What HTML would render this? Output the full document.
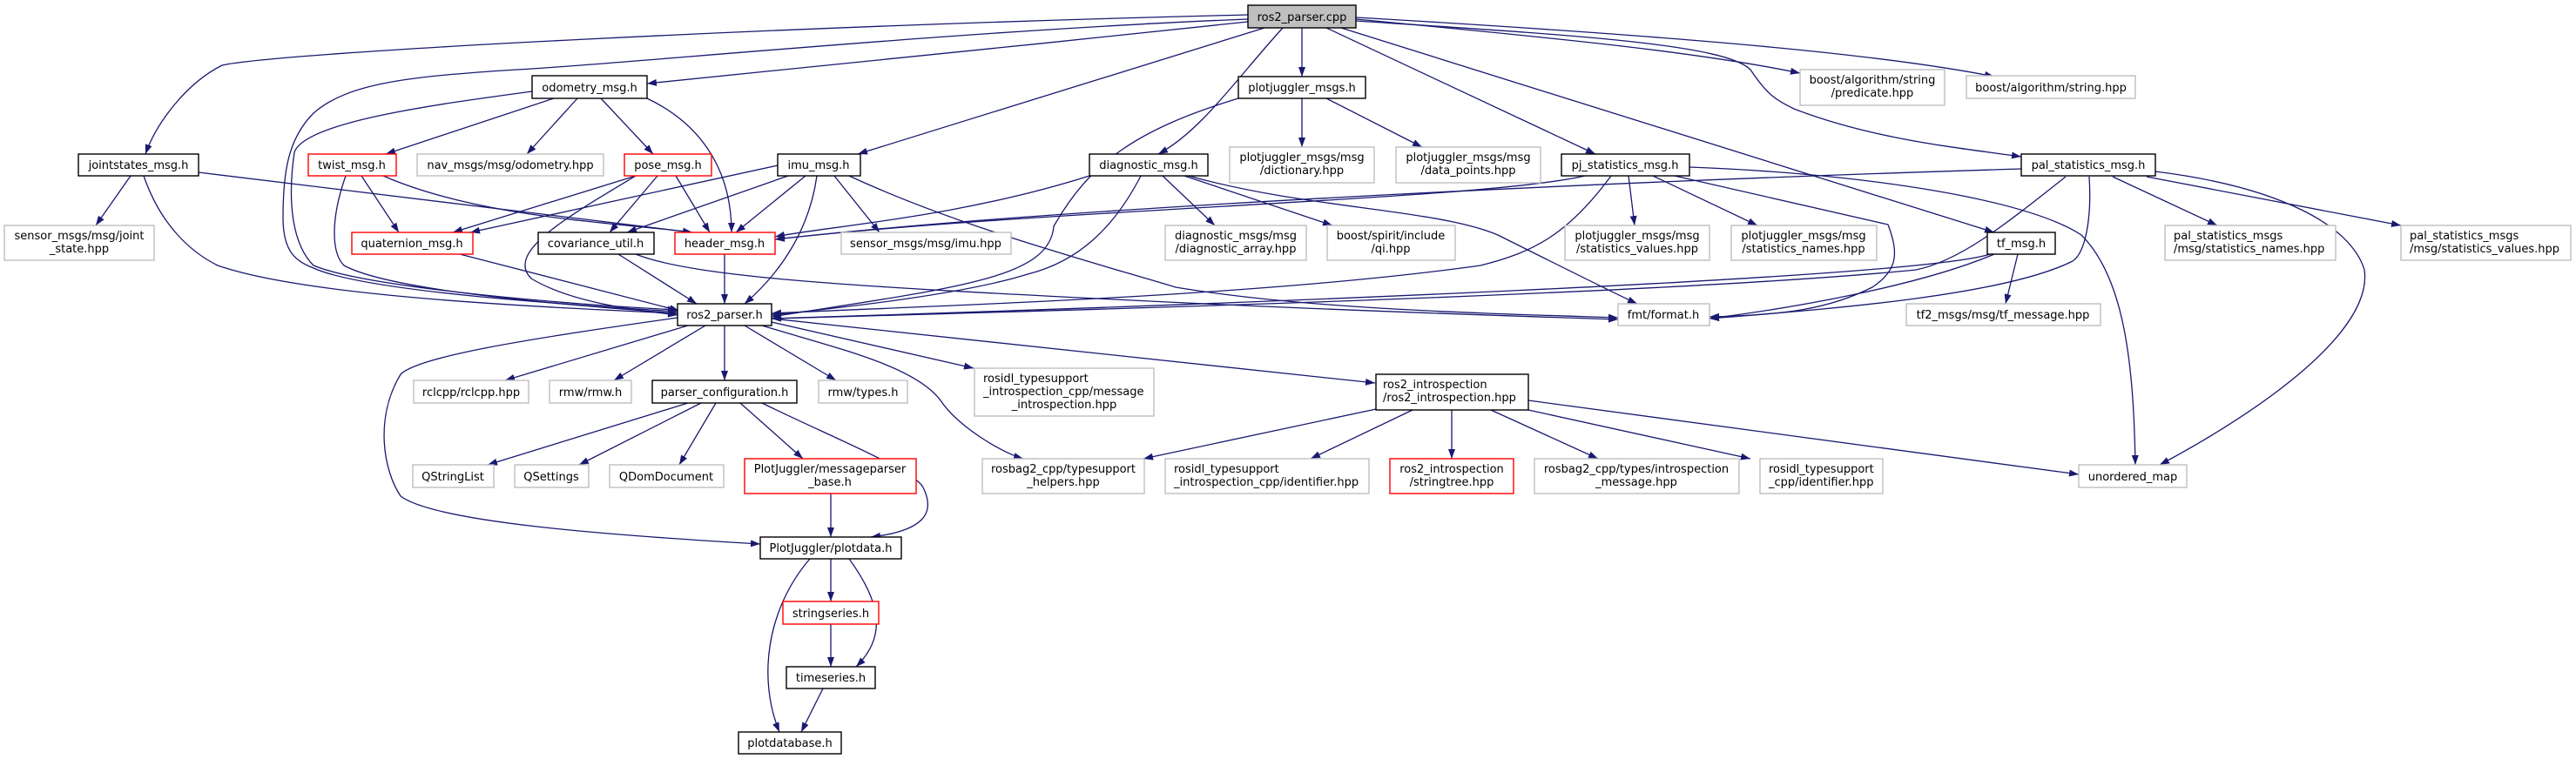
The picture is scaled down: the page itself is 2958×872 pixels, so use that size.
<!DOCTYPE html>
<html><head><meta charset="utf-8"><style>
html,body{margin:0;padding:0;background:#fff;}
svg{display:block;}
text{font-family:"DejaVu Sans","Liberation Sans",sans-serif;font-size:13px;fill:#000;}
.e{fill:none;stroke:#191970;stroke-width:1.3;marker-end:url(#a);}
.b{fill:#fff;stroke:#000;stroke-width:1.4;}
.g{fill:#fff;stroke:#bfbfbf;stroke-width:1.4;}
.r{fill:#fff;stroke:#ff0000;stroke-width:1.4;}
.f{fill:#bfbfbf;stroke:#000;stroke-width:1.4;}
</style></head><body>
<svg width="2958" height="872" viewBox="0 0 2958 872" xmlns="http://www.w3.org/2000/svg">
<defs><marker id="a" markerWidth="12" markerHeight="10" refX="11" refY="4" orient="auto" markerUnits="userSpaceOnUse"><path d="M0,0 L11,4 L0,8 z" fill="#191970"/></marker></defs>
<!-- edges -->
<path class="e" d="M1433,17 C900,30 320,60 255,75 C215,95 180,140 167,177"/>
<path class="e" d="M1433,25 C1200,50 900,80 743,96"/>
<path class="e" d="M1433,22 C1100,35 700,75 593,80 C470,88 400,95 360,130 C330,160 325,200 325,250 C325,290 340,300 360,308 C420,335 650,350 778,358"/>
<path class="e" d="M611,105 C500,120 350,140 338,175 C330,230 335,280 360,305 C420,330 650,350 778,356"/>
<path class="e" d="M1452,32 L985,177"/>
<path class="e" d="M1473,32 C1420,90 1380,150 1330,177"/>
<path class="e" d="M1495,32 L1495,88"/>
<path class="e" d="M1523,32 L1832,177"/>
<path class="e" d="M1540,32 L2290,267"/>
<path class="e" d="M1557,24 C1800,40 1980,50 2010,80 C2030,110 2040,115 2060,125 C2150,160 2250,170 2321,180"/>
<path class="e" d="M1557,22 C1800,45 1950,60 2067,84"/>
<path class="e" d="M1557,20 C1900,40 2150,60 2290,88"/>
<path class="e" d="M636,113 L443,177"/>
<path class="e" d="M663,113 L605,177"/>
<path class="e" d="M690,113 L750,177"/>
<path class="e" d="M743,113 C800,140 840,190 840,267"/>
<path class="e" d="M150,202 L110,259"/>
<path class="e" d="M165,202 C185,260 220,290 250,305 C350,340 600,352 778,360"/>
<path class="e" d="M228,198 L795,267"/>
<path class="e" d="M415,202 L458,267"/>
<path class="e" d="M397,202 C380,250 380,290 395,305 C450,335 650,350 778,360"/>
<path class="e" d="M440,202 C550,250 700,255 795,267"/>
<path class="e" d="M730,202 L520,267"/>
<path class="e" d="M755,202 L700,267"/>
<path class="e" d="M776,202 L815,267"/>
<path class="e" d="M730,202 C650,250 580,290 610,320 C660,350 740,357 778,362"/>
<path class="e" d="M893,190 L540,267"/>
<path class="e" d="M905,202 L720,267"/>
<path class="e" d="M925,202 L845,267"/>
<path class="e" d="M938,202 C930,260 900,310 855,349"/>
<path class="e" d="M958,202 L1010,267"/>
<path class="e" d="M975,202 C1100,260 1250,300 1350,330 C1500,355 1700,360 1858,365"/>
<path class="e" d="M528,292 L780,357"/>
<path class="e" d="M710,292 L800,349"/>
<path class="e" d="M730,292 C800,320 1000,330 1300,345 C1500,355 1700,362 1858,367"/>
<path class="e" d="M832,292 L832,349"/>
<path class="e" d="M1495,113 L1495,169"/>
<path class="e" d="M1523,113 L1633,169"/>
<path class="e" d="M1422,113 C1300,150 1250,190 1210,260 C1205,320 1100,330 886,364"/>
<path class="e" d="M1251,202 C1100,250 950,260 890,272"/>
<path class="e" d="M1310,202 C1280,260 1240,300 1180,315 C1100,340 950,355 886,362"/>
<path class="e" d="M1335,202 L1395,259"/>
<path class="e" d="M1360,202 L1530,259"/>
<path class="e" d="M1365,202 C1500,240 1650,240 1720,270 C1800,310 1860,340 1880,349"/>
<path class="e" d="M1820,202 C1700,230 1200,240 890,275"/>
<path class="e" d="M1850,202 C1800,270 1760,290 1700,305 C1450,340 1100,350 886,360"/>
<path class="e" d="M1870,202 L1877,259"/>
<path class="e" d="M1898,202 L2018,259"/>
<path class="e" d="M1923,202 L2168,258 C2180,290 2180,310 2150,330 C2100,355 2050,362 1963,364"/>
<path class="e" d="M1940,192 C2150,200 2330,230 2390,270 C2440,320 2450,420 2452,534"/>
<path class="e" d="M2321,194 C1800,210 1200,240 890,275"/>
<path class="e" d="M2372,203 C2300,260 2250,300 2200,310 C1900,340 1100,360 886,366"/>
<path class="e" d="M2399,203 C2402,250 2395,290 2380,300 C2300,340 2100,355 1963,366"/>
<path class="e" d="M2426,203 L2546,259"/>
<path class="e" d="M2465,203 L2757,259"/>
<path class="e" d="M2475,197 C2620,215 2700,260 2715,310 C2725,380 2600,470 2480,534"/>
<path class="e" d="M2317,292 L2303,349"/>
<path class="e" d="M2285,292 C2200,320 1400,350 886,366"/>
<path class="e" d="M2290,292 C2200,330 2050,355 1963,366"/>
<path class="e" d="M778,365 C600,390 480,410 460,430 C430,480 440,540 460,570 C500,600 700,615 873,625"/>
<path class="e" d="M790,374 L580,437"/>
<path class="e" d="M810,374 L705,437"/>
<path class="e" d="M832,374 L832,437"/>
<path class="e" d="M855,374 L960,437"/>
<path class="e" d="M886,370 L1118,423"/>
<path class="e" d="M886,366 L1579,440"/>
<path class="e" d="M875,374 C960,400 1050,420 1080,460 C1100,490 1150,520 1175,527"/>
<path class="e" d="M790,463 L560,534"/>
<path class="e" d="M805,463 L665,534"/>
<path class="e" d="M822,463 L780,534"/>
<path class="e" d="M850,463 L922,527"/>
<path class="e" d="M875,463 C950,500 1050,540 1060,560 C1075,590 1060,610 1000,617"/>
<path class="e" d="M954,567 L954,617"/>
<path class="e" d="M954,642 L954,691"/>
<path class="e" d="M975,642 C1010,690 1020,730 983,766"/>
<path class="e" d="M930,642 C880,700 870,780 895,841"/>
<path class="e" d="M954,717 L954,766"/>
<path class="e" d="M945,791 L920,841"/>
<path class="e" d="M1580,470 L1313,527"/>
<path class="e" d="M1622,471 L1505,527"/>
<path class="e" d="M1667,471 L1667,527"/>
<path class="e" d="M1712,471 L1835,527"/>
<path class="e" d="M1755,471 L2010,527"/>
<path class="e" d="M1755,460 L2387,545"/>
<!-- nodes -->
<rect class="f" x="1433" y="6" width="124" height="26"/><text x="1495" y="24" text-anchor="middle">ros2_parser.cpp</text>
<rect class="b" x="611" y="87" width="132" height="26"/><text x="677" y="105" text-anchor="middle">odometry_msg.h</text>
<rect class="b" x="1422" y="88" width="146" height="25"/><text x="1495" y="105" text-anchor="middle">plotjuggler_msgs.h</text>
<rect class="g" x="2067" y="80" width="166" height="41"/><text x="2150" y="96" text-anchor="middle">boost/algorithm/string</text><text x="2150" y="111" text-anchor="middle">/predicate.hpp</text>
<rect class="g" x="2258" y="87" width="194" height="26"/><text x="2355" y="105" text-anchor="middle">boost/algorithm/string.hpp</text>
<rect class="b" x="90" y="177" width="138" height="25"/><text x="159" y="194" text-anchor="middle">jointstates_msg.h</text>
<rect class="r" x="354" y="177" width="101" height="25"/><text x="404" y="194" text-anchor="middle">twist_msg.h</text>
<rect class="g" x="479" y="177" width="214" height="25"/><text x="586" y="194" text-anchor="middle">nav_msgs/msg/odometry.hpp</text>
<rect class="r" x="717" y="177" width="100" height="25"/><text x="767" y="194" text-anchor="middle">pose_msg.h</text>
<rect class="b" x="893" y="177" width="95" height="25"/><text x="940" y="194" text-anchor="middle">imu_msg.h</text>
<rect class="b" x="1251" y="177" width="136" height="25"/><text x="1319" y="194" text-anchor="middle">diagnostic_msg.h</text>
<rect class="g" x="1412" y="169" width="166" height="41"/><text x="1495" y="185" text-anchor="middle">plotjuggler_msgs/msg</text><text x="1495" y="200" text-anchor="middle">/dictionary.hpp</text>
<rect class="g" x="1603" y="169" width="166" height="41"/><text x="1686" y="185" text-anchor="middle">plotjuggler_msgs/msg</text><text x="1686" y="200" text-anchor="middle">/data_points.hpp</text>
<rect class="b" x="1793" y="177" width="147" height="25"/><text x="1866" y="194" text-anchor="middle">pj_statistics_msg.h</text>
<rect class="b" x="2321" y="177" width="154" height="25"/><text x="2398" y="194" text-anchor="middle">pal_statistics_msg.h</text>
<rect class="g" x="5" y="259" width="172" height="40"/><text x="91" y="275" text-anchor="middle">sensor_msgs/msg/joint</text><text x="91" y="290" text-anchor="middle">_state.hpp</text>
<rect class="r" x="404" y="267" width="139" height="25"/><text x="473" y="284" text-anchor="middle">quaternion_msg.h</text>
<rect class="b" x="618" y="267" width="133" height="25"/><text x="684" y="284" text-anchor="middle">covariance_util.h</text>
<rect class="r" x="775" y="267" width="115" height="25"/><text x="832" y="284" text-anchor="middle">header_msg.h</text>
<rect class="g" x="966" y="267" width="195" height="25"/><text x="1063" y="284" text-anchor="middle">sensor_msgs/msg/imu.hpp</text>
<rect class="g" x="1338" y="259" width="162" height="40"/><text x="1419" y="275" text-anchor="middle">diagnostic_msgs/msg</text><text x="1419" y="290" text-anchor="middle">/diagnostic_array.hpp</text>
<rect class="g" x="1524" y="259" width="147" height="40"/><text x="1597" y="275" text-anchor="middle">boost/spirit/include</text><text x="1597" y="290" text-anchor="middle">/qi.hpp</text>
<rect class="g" x="1797" y="259" width="166" height="40"/><text x="1880" y="275" text-anchor="middle">plotjuggler_msgs/msg</text><text x="1880" y="290" text-anchor="middle">/statistics_values.hpp</text>
<rect class="g" x="1988" y="259" width="167" height="40"/><text x="2071" y="275" text-anchor="middle">plotjuggler_msgs/msg</text><text x="2071" y="290" text-anchor="middle">/statistics_names.hpp</text>
<rect class="b" x="2282" y="267" width="78" height="25"/><text x="2321" y="284" text-anchor="middle">tf_msg.h</text>
<rect class="g" x="2486" y="259" width="196" height="40"/><text x="2496" y="275">pal_statistics_msgs</text><text x="2496" y="290">/msg/statistics_names.hpp</text>
<rect class="g" x="2757" y="259" width="195" height="40"/><text x="2767" y="275">pal_statistics_msgs</text><text x="2767" y="290">/msg/statistics_values.hpp</text>
<rect class="b" x="778" y="349" width="108" height="25"/><text x="832" y="366" text-anchor="middle">ros2_parser.h</text>
<rect class="g" x="1858" y="349" width="105" height="25"/><text x="1910" y="366" text-anchor="middle">fmt/format.h</text>
<rect class="g" x="2189" y="349" width="223" height="25"/><text x="2300" y="366" text-anchor="middle">tf2_msgs/msg/tf_message.hpp</text>
<rect class="g" x="475" y="437" width="132" height="26"/><text x="541" y="455" text-anchor="middle">rclcpp/rclcpp.hpp</text>
<rect class="g" x="631" y="437" width="94" height="26"/><text x="678" y="455" text-anchor="middle">rmw/rmw.h</text>
<rect class="b" x="749" y="437" width="166" height="26"/><text x="832" y="455" text-anchor="middle">parser_configuration.h</text>
<rect class="g" x="940" y="437" width="102" height="26"/><text x="991" y="455" text-anchor="middle">rmw/types.h</text>
<rect class="g" x="1119" y="423" width="206" height="55"/><text x="1129" y="439">rosidl_typesupport</text><text x="1129" y="454">_introspection_cpp/message</text><text x="1222" y="469" text-anchor="middle">_introspection.hpp</text>
<rect class="b" x="1580" y="430" width="175" height="41"/><text x="1588" y="446">ros2_introspection</text><text x="1588" y="461">/ros2_introspection.hpp</text>
<rect class="g" x="474" y="534" width="93" height="26"/><text x="520" y="552" text-anchor="middle">QStringList</text>
<rect class="g" x="591" y="534" width="85" height="26"/><text x="633" y="552" text-anchor="middle">QSettings</text>
<rect class="g" x="700" y="534" width="131" height="26"/><text x="765" y="552" text-anchor="middle">QDomDocument</text>
<rect class="r" x="855" y="527" width="197" height="40"/><text x="953" y="543" text-anchor="middle">PlotJuggler/messageparser</text><text x="953" y="558" text-anchor="middle">_base.h</text>
<rect class="g" x="1128" y="527" width="186" height="40"/><text x="1221" y="543" text-anchor="middle">rosbag2_cpp/typesupport</text><text x="1221" y="558" text-anchor="middle">_helpers.hpp</text>
<rect class="g" x="1338" y="527" width="234" height="40"/><text x="1348" y="543">rosidl_typesupport</text><text x="1348" y="558">_introspection_cpp/identifier.hpp</text>
<rect class="r" x="1596" y="527" width="142" height="40"/><text x="1667" y="543" text-anchor="middle">ros2_introspection</text><text x="1667" y="558" text-anchor="middle">/stringtree.hpp</text>
<rect class="g" x="1762" y="527" width="235" height="40"/><text x="1879" y="543" text-anchor="middle">rosbag2_cpp/types/introspection</text><text x="1879" y="558" text-anchor="middle">_message.hpp</text>
<rect class="g" x="2021" y="527" width="141" height="40"/><text x="2031" y="543">rosidl_typesupport</text><text x="2031" y="558">_cpp/identifier.hpp</text>
<rect class="g" x="2387" y="534" width="124" height="26"/><text x="2449" y="552" text-anchor="middle">unordered_map</text>
<rect class="b" x="873" y="617" width="162" height="25"/><text x="954" y="634" text-anchor="middle">PlotJuggler/plotdata.h</text>
<rect class="r" x="899" y="691" width="110" height="26"/><text x="954" y="709" text-anchor="middle">stringseries.h</text>
<rect class="b" x="903" y="766" width="102" height="25"/><text x="954" y="783" text-anchor="middle">timeseries.h</text>
<rect class="b" x="848" y="841" width="118" height="25"/><text x="907" y="858" text-anchor="middle">plotdatabase.h</text>
</svg>
</body></html>
